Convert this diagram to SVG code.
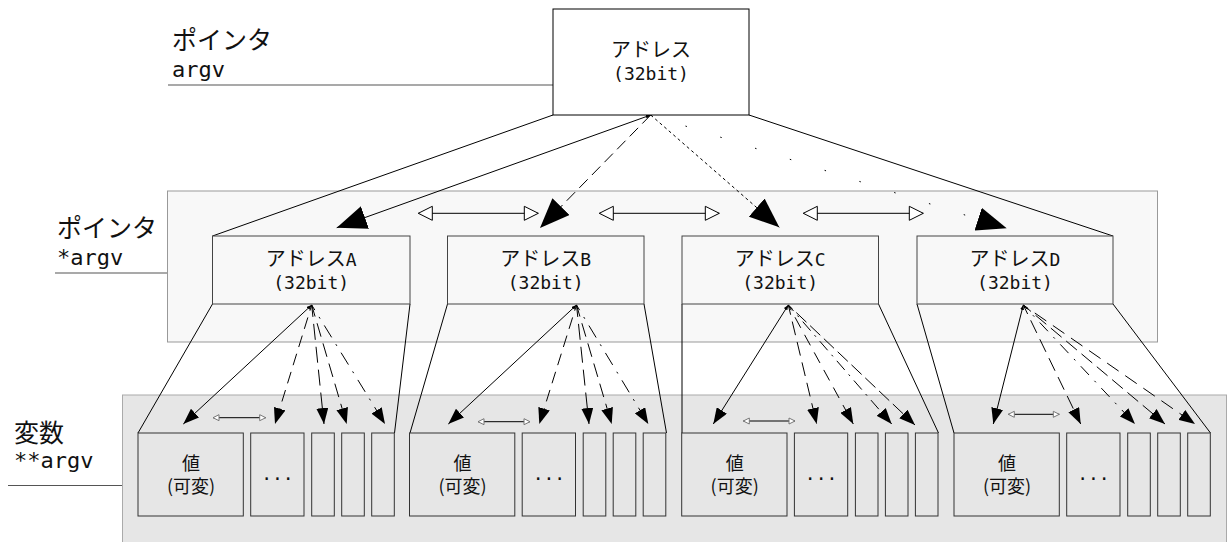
<svg xmlns="http://www.w3.org/2000/svg" width="1227" height="542" viewBox="0 0 1227 542">
<style>
.jp{font-family:"Noto Sans CJK JP","DejaVu Sans",sans-serif;fill:#111}
.mono{font-family:"DejaVu Sans Mono","Noto Sans CJK JP",monospace;fill:#111}
.ln{stroke:#000;stroke-width:1;fill:none}
.lbl{stroke:#555;stroke-width:1.2;fill:none}
.addr{fill:#f8f8f8;stroke:#444;stroke-width:1}
.val{fill:#e6e6e6;stroke:#333;stroke-width:1}
</style>
<defs>
<marker id="big" viewBox="0 0 30 24" markerWidth="30" markerHeight="24" refX="30" refY="12" orient="auto" markerUnits="userSpaceOnUse"><path d="M0,0 L30,12 L0,24 z" fill="#000"/></marker>
<marker id="sm" viewBox="0 0 16 12" markerWidth="16" markerHeight="12" refX="16" refY="6" orient="auto" markerUnits="userSpaceOnUse"><path d="M0,0 L16,6 L0,12 z" fill="#000"/></marker>
<marker id="tip" viewBox="0 0 5 4" markerWidth="5" markerHeight="4" refX="5" refY="2" orient="auto-start-reverse" markerUnits="userSpaceOnUse"><path d="M0,0 L5,2 L0,4 z" fill="#000"/></marker>
<marker id="open" viewBox="-1 -1 16 16" markerWidth="16" markerHeight="16" refX="14" refY="7" orient="auto-start-reverse" markerUnits="userSpaceOnUse"><path d="M0,0 L14,7 L0,14 z" fill="#fff" stroke="#000" stroke-width="1"/></marker>
<marker id="open-s" viewBox="-1 -1 8 8" markerWidth="8" markerHeight="8" refX="6" refY="3" orient="auto-start-reverse" markerUnits="userSpaceOnUse"><path d="M0,0 L6,3 L0,6 z" fill="#fff" stroke="#777" stroke-width="1"/></marker>
</defs>

<rect width="1227" height="542" fill="#fff"/>

<g id="labels">
  <text class="jp" x="172" y="49" font-size="25">ポインタ</text>
  <text class="mono" x="172" y="76.5" font-size="22">argv</text>
  <line class="lbl" x1="168" y1="85" x2="553" y2="85"/>
  <text class="jp" x="57" y="237" font-size="25">ポインタ</text>
  <text class="mono" x="57" y="264.5" font-size="22">*argv</text>
  <line class="lbl" x1="55" y1="273" x2="167.5" y2="273"/>
  <text class="jp" x="14" y="442" font-size="25">変数</text>
  <text class="mono" x="14" y="468" font-size="22">**argv</text>
  <line class="lbl" x1="8" y1="485.5" x2="122.5" y2="485.5"/>
</g>

<g id="containers">
  <rect id="ptr-area" x="167.5" y="191" width="990" height="151" fill="#f8f8f8" stroke="#999"/>
  <rect id="var-area" x="122.5" y="395" width="1104" height="160" fill="#e6e6e6" stroke="#aaa"/>
</g>

<g id="connectors">
  <line class="ln" x1="553" y1="115" x2="212.5" y2="236"/>
  <line class="ln" x1="749" y1="115" x2="1113" y2="236"/>
  <line class="ln" x1="212.5" y1="304" x2="138" y2="433"/>
  <line class="ln" x1="410" y1="304" x2="394.5" y2="433"/>
  <line class="ln" x1="447.5" y1="304" x2="410" y2="433"/>
  <line class="ln" x1="644" y1="304" x2="666.5" y2="433"/>
  <line class="ln" x1="682" y1="304" x2="682" y2="433"/>
  <line class="ln" x1="878.5" y1="304" x2="938.5" y2="433"/>
  <line class="ln" x1="917" y1="304" x2="954" y2="433"/>
  <line class="ln" x1="1113" y1="304" x2="1210.5" y2="433"/>

  <line class="ln" x1="650.7" y1="115" x2="336.7" y2="227.7" marker-start="url(#tip)" marker-end="url(#big)"/>
  <line class="ln" x1="650.7" y1="115" x2="540" y2="228" stroke-dasharray="12 6" marker-end="url(#big)"/>
  <line class="ln" x1="650.7" y1="115" x2="779.3" y2="227.3" stroke-dasharray="3 3" marker-end="url(#big)"/>
  <line class="ln" x1="650.7" y1="115" x2="1006.7" y2="228.3" stroke-dasharray="1.5 35" stroke-width="1.3" marker-end="url(#big)"/>

  <line class="ln" x1="418.3" y1="213.3" x2="538.3" y2="213.3" marker-start="url(#open)" marker-end="url(#open)"/>
  <line class="ln" x1="599.3" y1="213.3" x2="719.3" y2="213.3" marker-start="url(#open)" marker-end="url(#open)"/>
  <line class="ln" x1="803.3" y1="213.3" x2="923.3" y2="213.3" marker-start="url(#open)" marker-end="url(#open)"/>

  <line class="ln" x1="311.7" y1="305" x2="183.3" y2="424" marker-start="url(#tip)" marker-end="url(#sm)"/>
  <line class="ln" x1="311.7" y1="305" x2="275" y2="424" stroke-dasharray="12 7" stroke-dashoffset="6" marker-end="url(#sm)"/>
  <line class="ln" x1="311.7" y1="305" x2="324" y2="424" stroke-dasharray="16 7" stroke-dashoffset="4" marker-end="url(#sm)"/>
  <line class="ln" x1="311.7" y1="305" x2="346.7" y2="424" stroke-dasharray="14 7" stroke-dashoffset="2" marker-end="url(#sm)"/>
  <line class="ln" x1="311.7" y1="305" x2="385" y2="424" stroke-dasharray="14 8 2 8" stroke-dashoffset="8" marker-end="url(#sm)"/>
  <line class="ln" x1="213" y1="417.7" x2="265.7" y2="417.7" marker-start="url(#open-s)" marker-end="url(#open-s)"/>

  <line class="ln" x1="576.5" y1="305" x2="448.3" y2="424" marker-start="url(#tip)" marker-end="url(#sm)"/>
  <line class="ln" x1="576.5" y1="305" x2="539.3" y2="424" stroke-dasharray="12 7" stroke-dashoffset="6" marker-end="url(#sm)"/>
  <line class="ln" x1="576.5" y1="305" x2="589" y2="424" stroke-dasharray="16 7" stroke-dashoffset="4" marker-end="url(#sm)"/>
  <line class="ln" x1="576.5" y1="305" x2="611.7" y2="424" stroke-dasharray="14 7" stroke-dashoffset="2" marker-end="url(#sm)"/>
  <line class="ln" x1="576.5" y1="305" x2="648.3" y2="424" stroke-dasharray="14 8 2 8" stroke-dashoffset="8" marker-end="url(#sm)"/>
  <line class="ln" x1="478" y1="421.7" x2="530" y2="421.7" marker-start="url(#open-s)" marker-end="url(#open-s)"/>

  <line class="ln" x1="788.3" y1="305" x2="713.3" y2="424" marker-start="url(#tip)" marker-end="url(#sm)"/>
  <line class="ln" x1="788.3" y1="305" x2="816.7" y2="424" stroke-dasharray="14 7" stroke-dashoffset="4" marker-end="url(#sm)"/>
  <line class="ln" x1="788.3" y1="305" x2="853.3" y2="424" stroke-dasharray="12 8" stroke-dashoffset="6" marker-end="url(#sm)"/>
  <line class="ln" x1="788.3" y1="305" x2="891.7" y2="424" stroke-dasharray="12 6 2 6" stroke-dashoffset="4" marker-end="url(#sm)"/>
  <line class="ln" x1="788.3" y1="305" x2="915" y2="425" stroke-dasharray="14 5" stroke-dashoffset="8" marker-end="url(#sm)"/>
  <line class="ln" x1="743.3" y1="421" x2="795" y2="421" marker-start="url(#open-s)" marker-end="url(#open-s)"/>

  <line class="ln" x1="1023.3" y1="305" x2="993.3" y2="424" marker-start="url(#tip)" marker-end="url(#sm)"/>
  <line class="ln" x1="1023.3" y1="305" x2="1080.7" y2="424" stroke-dasharray="14 7" stroke-dashoffset="4" marker-end="url(#sm)"/>
  <line class="ln" x1="1023.3" y1="305" x2="1135" y2="424" stroke-dasharray="12 8 2 8" stroke-dashoffset="6" marker-end="url(#sm)"/>
  <line class="ln" x1="1023.3" y1="305" x2="1165" y2="424" stroke-dasharray="14 6" stroke-dashoffset="4" marker-end="url(#sm)"/>
  <line class="ln" x1="1023.3" y1="305" x2="1195" y2="424" stroke-dasharray="14 8" stroke-dashoffset="8" marker-end="url(#sm)"/>
  <line class="ln" x1="1008.3" y1="414.3" x2="1059.3" y2="414.3" marker-start="url(#open-s)" marker-end="url(#open-s)"/>
</g>

<g id="node-top">
  <rect x="553" y="9" width="196" height="106" fill="#fff" stroke="#000"/>
  <text class="jp" x="651" y="57" font-size="20" text-anchor="middle">アドレス</text>
  <text class="mono" x="651" y="79.5" font-size="18" text-anchor="middle">(32bit)</text>
</g>

<g id="node-addrA">
  <rect class="addr" x="212.5" y="236" width="197.5" height="68"/>
  <text class="mono" x="311.2" y="266" font-size="18" text-anchor="middle"><tspan class="jp" font-size="20">アドレス</tspan>A</text>
  <text class="mono" x="311.2" y="288.5" font-size="18" text-anchor="middle">(32bit)</text>
</g>
<g id="node-addrB">
  <rect class="addr" x="447.5" y="236" width="196.5" height="68"/>
  <text class="mono" x="545.7" y="266" font-size="18" text-anchor="middle"><tspan class="jp" font-size="20">アドレス</tspan>B</text>
  <text class="mono" x="545.7" y="288.5" font-size="18" text-anchor="middle">(32bit)</text>
</g>
<g id="node-addrC">
  <rect class="addr" x="682" y="236" width="196.5" height="68"/>
  <text class="mono" x="780.2" y="266" font-size="18" text-anchor="middle"><tspan class="jp" font-size="20">アドレス</tspan>C</text>
  <text class="mono" x="780.2" y="288.5" font-size="18" text-anchor="middle">(32bit)</text>
</g>
<g id="node-addrD">
  <rect class="addr" x="917" y="236" width="196" height="68"/>
  <text class="mono" x="1015" y="266" font-size="18" text-anchor="middle"><tspan class="jp" font-size="20">アドレス</tspan>D</text>
  <text class="mono" x="1015" y="288.5" font-size="18" text-anchor="middle">(32bit)</text>
</g>

<g id="node-varsA">
  <rect class="val" x="138" y="433" width="105.3" height="83"/>
  <text class="jp" x="191" y="469.5" font-size="18" text-anchor="middle">値</text>
  <text class="jp" x="191" y="493" font-size="18" text-anchor="middle">(可変)</text>
  <rect class="val" x="250.7" y="433" width="53.3" height="83"/>
  <text class="mono" x="277.4" y="480" font-size="18" text-anchor="middle">...</text>
  <rect class="val" x="311.7" y="433" width="22.6" height="83"/>
  <rect class="val" x="341.7" y="433" width="22.6" height="83"/>
  <rect class="val" x="371.7" y="433" width="22.6" height="83"/>
</g>
<g id="node-varsB">
  <rect class="val" x="409.5" y="433" width="105.3" height="83"/>
  <text class="jp" x="462.5" y="469.5" font-size="18" text-anchor="middle">値</text>
  <text class="jp" x="462.5" y="493" font-size="18" text-anchor="middle">(可変)</text>
  <rect class="val" x="522.2" y="433" width="53.3" height="83"/>
  <text class="mono" x="548.9" y="480" font-size="18" text-anchor="middle">...</text>
  <rect class="val" x="583.2" y="433" width="22.6" height="83"/>
  <rect class="val" x="613.2" y="433" width="22.6" height="83"/>
  <rect class="val" x="643.2" y="433" width="22.6" height="83"/>
</g>
<g id="node-varsC">
  <rect class="val" x="681.7" y="433" width="105.3" height="83"/>
  <text class="jp" x="734.7" y="469.5" font-size="18" text-anchor="middle">値</text>
  <text class="jp" x="734.7" y="493" font-size="18" text-anchor="middle">(可変)</text>
  <rect class="val" x="794.4" y="433" width="53.3" height="83"/>
  <text class="mono" x="821.1" y="480" font-size="18" text-anchor="middle">...</text>
  <rect class="val" x="855.4" y="433" width="22.6" height="83"/>
  <rect class="val" x="885.4" y="433" width="22.6" height="83"/>
  <rect class="val" x="915.4" y="433" width="22.6" height="83"/>
</g>
<g id="node-varsD">
  <rect class="val" x="954" y="433" width="105.3" height="83"/>
  <text class="jp" x="1007" y="469.5" font-size="18" text-anchor="middle">値</text>
  <text class="jp" x="1007" y="493" font-size="18" text-anchor="middle">(可変)</text>
  <rect class="val" x="1066.7" y="433" width="53.3" height="83"/>
  <text class="mono" x="1093.4" y="480" font-size="18" text-anchor="middle">...</text>
  <rect class="val" x="1127.7" y="433" width="22.6" height="83"/>
  <rect class="val" x="1157.7" y="433" width="22.6" height="83"/>
  <rect class="val" x="1187.7" y="433" width="22.6" height="83"/>
</g>
</svg>
